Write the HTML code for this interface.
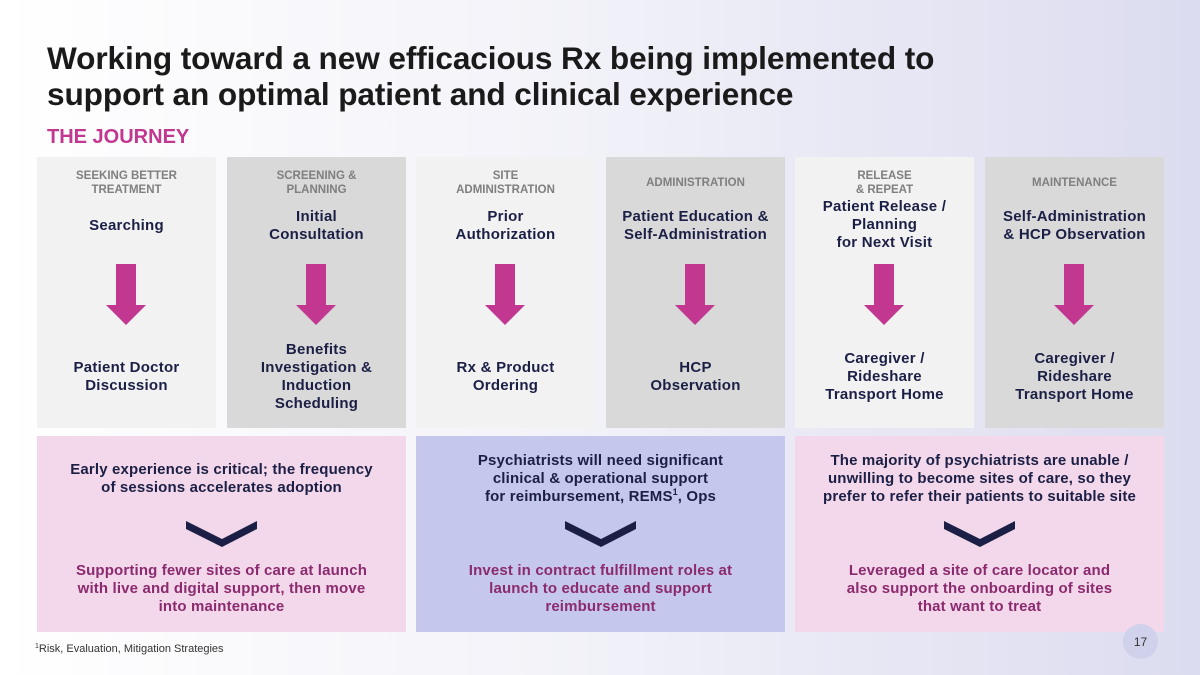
<!DOCTYPE html>
<html><head><meta charset="utf-8"><style>
*{margin:0;padding:0;box-sizing:border-box}
body{width:1200px;height:675px;overflow:hidden;position:relative;font-family:"Liberation Sans",sans-serif;font-weight:bold;background:linear-gradient(90deg,#ffffff 0%,#f3f3f9 45%,#dcdcf0 100%)}
.a{position:absolute}
.title{left:47px;top:40px;font-size:31.6px;line-height:36px;color:#1a1a1a;letter-spacing:-0.1px}
.jr{left:47px;top:126px;font-size:20px;color:#c2378f}
.col{position:absolute;top:157px;width:179px;height:271px}
.l{background:#f2f2f2}.d{background:#d9d9d9}
.c{position:absolute;left:0;width:100%;display:flex;align-items:center;justify-content:center;text-align:center}
.h{top:8px;height:36px;font-size:11.5px;line-height:14px;color:#7f7f7f}
.m{top:44px;height:50px;font-size:15px;line-height:18px;color:#1c1f45;letter-spacing:0.25px}
.b{top:178px;height:84px;font-size:15px;line-height:18px;color:#1c1f45;letter-spacing:0.25px}
.arr{position:absolute;left:69px;top:107px}
.box{position:absolute;top:436px;width:369px;height:196px}
.bt{position:absolute;left:0;width:100%;text-align:center;font-size:15px;line-height:18px;letter-spacing:0.15px}
.n{color:#1c1f45}.p{color:#8b2a6e}
.chev{position:absolute;top:520px}
sup{font-size:9px;line-height:0;vertical-align:6px}
</style></head><body>
<div class="a title">Working toward a new efficacious Rx being implemented to<br>support an optimal patient and clinical experience</div>
<div class="a jr">THE JOURNEY</div>

<div class="col l" style="left:37px"><div class="c h">SEEKING BETTER<br>TREATMENT</div><div class="c m">Searching</div>
<svg class="arr" width="41" height="61"><polygon points="10,0 30,0 30,41 40,41 20,61 0,41 10,41" fill="#c2378f"/></svg>
<div class="c b">Patient Doctor<br>Discussion</div></div>
<div class="col d" style="left:227px"><div class="c h">SCREENING &amp;<br>PLANNING</div><div class="c m">Initial<br>Consultation</div>
<svg class="arr" width="41" height="61"><polygon points="10,0 30,0 30,41 40,41 20,61 0,41 10,41" fill="#c2378f"/></svg>
<div class="c b">Benefits<br>Investigation &amp;<br>Induction<br>Scheduling</div></div>
<div class="col l" style="left:416px"><div class="c h">SITE<br>ADMINISTRATION</div><div class="c m">Prior<br>Authorization</div>
<svg class="arr" width="41" height="61"><polygon points="10,0 30,0 30,41 40,41 20,61 0,41 10,41" fill="#c2378f"/></svg>
<div class="c b">Rx &amp; Product<br>Ordering</div></div>
<div class="col d" style="left:606px"><div class="c h">ADMINISTRATION</div><div class="c m">Patient Education &amp;<br>Self-Administration</div>
<svg class="arr" width="41" height="61"><polygon points="10,0 30,0 30,41 40,41 20,61 0,41 10,41" fill="#c2378f"/></svg>
<div class="c b">HCP<br>Observation</div></div>
<div class="col l" style="left:795px"><div class="c h">RELEASE<br>&amp; REPEAT</div><div class="c m" style="top:43px">Patient Release /<br>Planning<br>for Next Visit</div>
<svg class="arr" width="41" height="61"><polygon points="10,0 30,0 30,41 40,41 20,61 0,41 10,41" fill="#c2378f"/></svg>
<div class="c b">Caregiver /<br>Rideshare<br>Transport Home</div></div>
<div class="col d" style="left:985px"><div class="c h">MAINTENANCE</div><div class="c m">Self-Administration<br>&amp; HCP Observation</div>
<svg class="arr" width="41" height="61"><polygon points="10,0 30,0 30,41 40,41 20,61 0,41 10,41" fill="#c2378f"/></svg>
<div class="c b">Caregiver /<br>Rideshare<br>Transport Home</div></div>

<div class="box" style="left:37px;background:#f2d8ea">
<div class="bt n" style="top:25px">Early experience is critical; the frequency<br>of sessions accelerates adoption</div>
<div class="bt p" style="top:126px">Supporting fewer sites of care at launch<br>with live and digital support, then move<br>into maintenance</div></div>
<div class="box" style="left:416px;background:#c5c8ec">
<div class="bt n" style="top:16px">Psychiatrists will need significant<br>clinical &amp; operational support<br>for reimbursement, REMS<sup>1</sup>, Ops</div>
<div class="bt p" style="top:126px">Invest in contract fulfillment roles at<br>launch to educate and support<br>reimbursement</div></div>
<div class="box" style="left:795px;background:#f2d8ea">
<div class="bt n" style="top:16px">The majority of psychiatrists are unable /<br>unwilling to become sites of care, so they<br>prefer to refer their patients to suitable site</div>
<div class="bt p" style="top:126px">Leveraged a site of care locator and<br>also support the onboarding of sites<br>that want to treat</div></div>

<svg class="chev" style="left:186px" width="72" height="28"><polygon points="0,1 36,19 71,1 71,9 36,27 0,9" fill="#1c1f45"/></svg>
<svg class="chev" style="left:565px" width="72" height="28"><polygon points="0,1 36,19 71,1 71,9 36,27 0,9" fill="#1c1f45"/></svg>
<svg class="chev" style="left:944px" width="72" height="28"><polygon points="0,1 36,19 71,1 71,9 36,27 0,9" fill="#1c1f45"/></svg>

<div class="a" style="left:1123px;top:624px;width:35px;height:35px;border-radius:50%;background:#d0d1ea;font-size:12px;font-weight:normal;color:#333;display:flex;align-items:center;justify-content:center">17</div>
<div class="a" style="left:35px;top:643px;font-size:11px;font-weight:normal;color:#333"><sup style="font-size:7px;vertical-align:4px">1</sup>Risk, Evaluation, Mitigation Strategies</div>
</body></html>
